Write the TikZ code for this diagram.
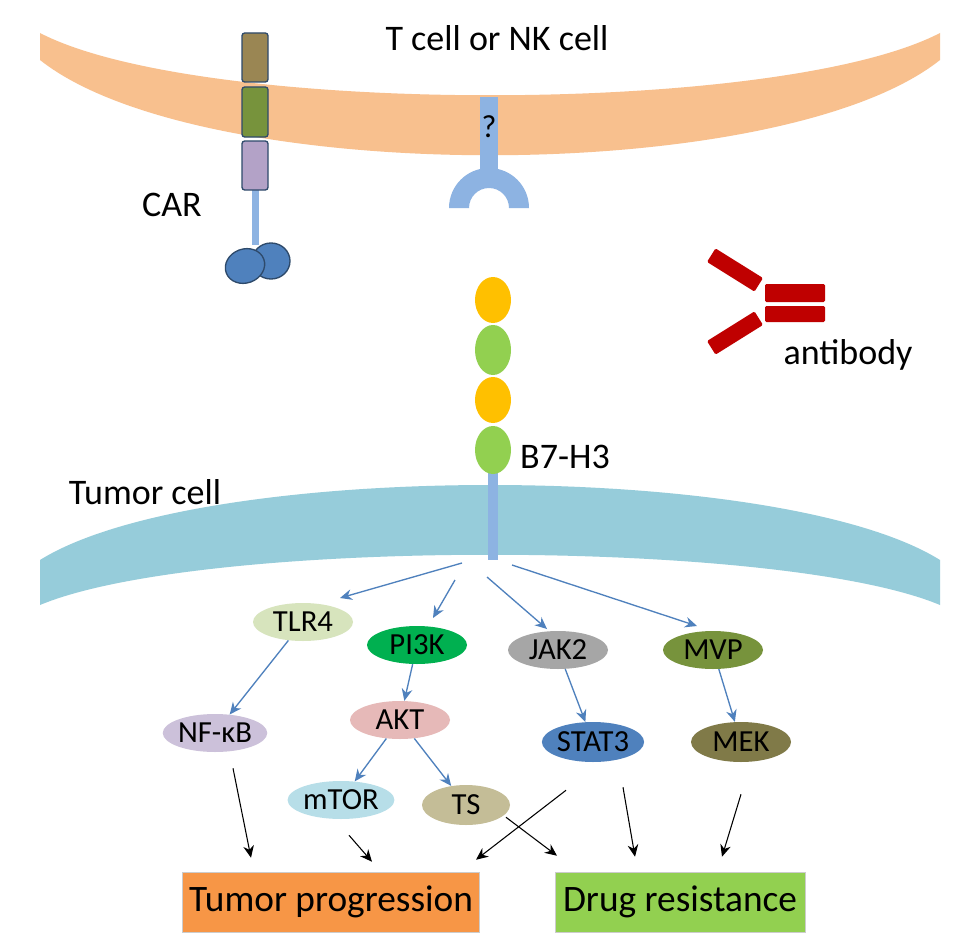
\documentclass[tikz,border=0pt]{standalone}
\usepackage{fontspec}
\setmainfont{Carlito}
\usetikzlibrary{arrows.meta,shapes.geometric}
\definecolor{orangeM}{HTML}{F8C08E}
\definecolor{blueM}{HTML}{96CCDA}
\definecolor{stalk}{HTML}{8DB3E2}
\definecolor{outl}{HTML}{2E4A6B}
\definecolor{arrB}{HTML}{4F81BD}
\definecolor{yel}{HTML}{FFC000}
\definecolor{grn}{HTML}{92D050}
\tikzset{
 mol/.style={ellipse,minimum width=100*0.75pt,minimum height=38*0.75pt,inner sep=0pt,font=\fontsize{23}{23}\selectfont},
 barrow/.style={draw=arrB,line width=1pt,-{Stealth[length=9pt,width=8pt]}},
 karrow/.style={draw=black,line width=0.8pt,-{Stealth[length=9pt,width=8pt]}},
 lbl/.style={font=\fontsize{27}{27}\selectfont},
 outbox/.style={draw=white!80!black,minimum height=60*0.75pt,font=\fontsize{28}{28}\selectfont,inner sep=0pt},
 carseg/.style={draw=outl,line width=1pt,rounded corners=2pt},
 red/.style={fill=red!75!black,draw=none,rounded corners=1pt}
}
\begin{document}
\begin{tikzpicture}[x=0.75pt,y=-0.75pt]
\useasboundingbox[fill=white] (0,0) rectangle (978,949);
% T cell membrane
\fill[orangeM] (40,33) .. controls (200,116) and (780,116) .. (940,33) -- (940,60) .. controls (780,187) and (200,187) .. (40,60) -- cycle;
% Tumor cell membrane
\fill[blueM] (40,560) .. controls (200,460) and (780,460) .. (940,560) -- (940,605) .. controls (780,538) and (200,538) .. (40,605) -- cycle;
% CAR
\fill[stalk] (252,190) rectangle (259,245);
\draw[carseg,fill={rgb,255:red,154;green,134;blue,83}] (242,33) rectangle (268,82);
\draw[carseg,fill={rgb,255:red,119;green,147;blue,60}] (242,87) rectangle (268,137);
\draw[carseg,fill={rgb,255:red,179;green,162;blue,199}] (242,141) rectangle (268,190);
\draw[outl,line width=1pt,fill=arrB] (271,261) ellipse [x radius=19,y radius=18];
\draw[outl,line width=1pt,fill=arrB,rotate around={20:(245,266)}] (245,266) ellipse [x radius=20,y radius=17];
% ? receptor
\fill[stalk] (480,97) rectangle (498,170);
\fill[stalk] (449,208) arc[start angle=180,end angle=360,radius=40] -- (509,208) arc[start angle=360,end angle=180,radius=20] -- cycle;
\node[font=\fontsize{24}{24}\selectfont] (q) at (489,127) {?};
% B7-H3
\fill[stalk] (488,470) rectangle (498,560);
\fill[yel] (493,300) ellipse [x radius=18,y radius=23];
\fill[grn] (493,350) ellipse [x radius=18,y radius=25];
\fill[yel] (493,400) ellipse [x radius=18,y radius=23];
\fill[grn] (493,450) ellipse [x radius=18,y radius=24];
% antibody
\fill[red] (765,284) rectangle (825,302);
\fill[red] (765,306) rectangle (825,322);
\fill[red,rotate around={-32:(735,270)}] (707,262) rectangle (763,278);
\fill[red,rotate around={32:(735,333)}] (707,325) rectangle (763,341);
% labels
\node[lbl] (tl) at (497,38) {T cell or NK cell};
\node[lbl] (car) at (172,205) {CAR};
\node[lbl] (ab) at (848,355) {antibody};
\node[lbl] (b7) at (565,457) {B7-H3};
\node[lbl] (tc) at (145,492) {Tumor cell};
% pathway
\node[mol,fill={rgb,255:red,215;green,228;blue,189}] (tlr) at (303,622) {TLR4};
\node[mol,fill={rgb,255:red,0;green,176;blue,80}] (pi3k) at (417,645) {PI3K};
\node[mol,fill={rgb,255:red,166;green,166;blue,166}] (jak) at (558,650) {JAK2};
\node[mol,fill={rgb,255:red,119;green,147;blue,60}] (mvp) at (713,650) {MVP};
\node[mol,fill={rgb,255:red,204;green,193;blue,218}] (nfkb) at (215,733) {NF-κB};
\node[mol,fill={rgb,255:red,230;green,185;blue,184}] (akt) at (400,720) {AKT};
\node[mol,minimum height=40*0.75pt,fill={rgb,255:red,79;green,129;blue,189}] (stat) at (593,742) {STAT3};
\node[mol,minimum height=40*0.75pt,fill={rgb,255:red,128;green,122;blue,72}] (mek) at (741,742) {MEK};
\node[mol,fill={rgb,255:red,183;green,222;blue,232}] (mtor) at (341,800) {mTOR};
\node[mol,minimum width=88*0.75pt,minimum height=40*0.75pt,fill={rgb,255:red,196;green,189;blue,151}] (ts) at (466,805) {TS};
\node[outbox,fill={rgb,255:red,247;green,150;blue,70},minimum width=297*0.75pt] (tp) at (331,902) {Tumor progression};
\node[outbox,fill={rgb,255:red,146;green,208;blue,80},minimum width=250*0.75pt] (dr) at (680,902) {Drug resistance};
% blue arrows
\coordinate (s1) at (462,563); \coordinate (s2) at (455,580);
\coordinate (s3) at (487,577); \coordinate (s4) at (512,565);
\draw[barrow] (s1) -- (340,598);
\draw[barrow] (s2) -- (433,618);
\draw[barrow] (s3) -- (547,629);
\draw[barrow] (s4) -- (697,626);
\draw[barrow] (tlr) -- (nfkb);
\draw[barrow] (pi3k) -- (akt);
\draw[barrow] (akt) -- (mtor);
\draw[barrow] (akt) -- (ts);
\draw[barrow] (jak) -- (stat);
\draw[barrow] (mvp) -- (mek);
% black arrows
\draw[karrow] ([shift={(18,16)}]nfkb.south) -- ([shift={(-80,-14)}]tp.north);
\draw[karrow] ([shift={(8,16)}]mtor.south) -- ([shift={(41,-10)}]tp.north);
\draw[karrow] ([shift={(-27,28)}]stat.south) -- ([shift={(145,-12)}]tp.north);
\draw[karrow] ([shift={(40,-8)}]ts.south) -- ([shift={(-123,-16)}]dr.north);
\draw[karrow] ([shift={(30,25)}]stat.south) -- ([shift={(-45,-15)}]dr.north);
\draw[karrow] ([shift={(0,32)}]mek.south) -- ([shift={(42,-15)}]dr.north);
\end{tikzpicture}
\end{document}
